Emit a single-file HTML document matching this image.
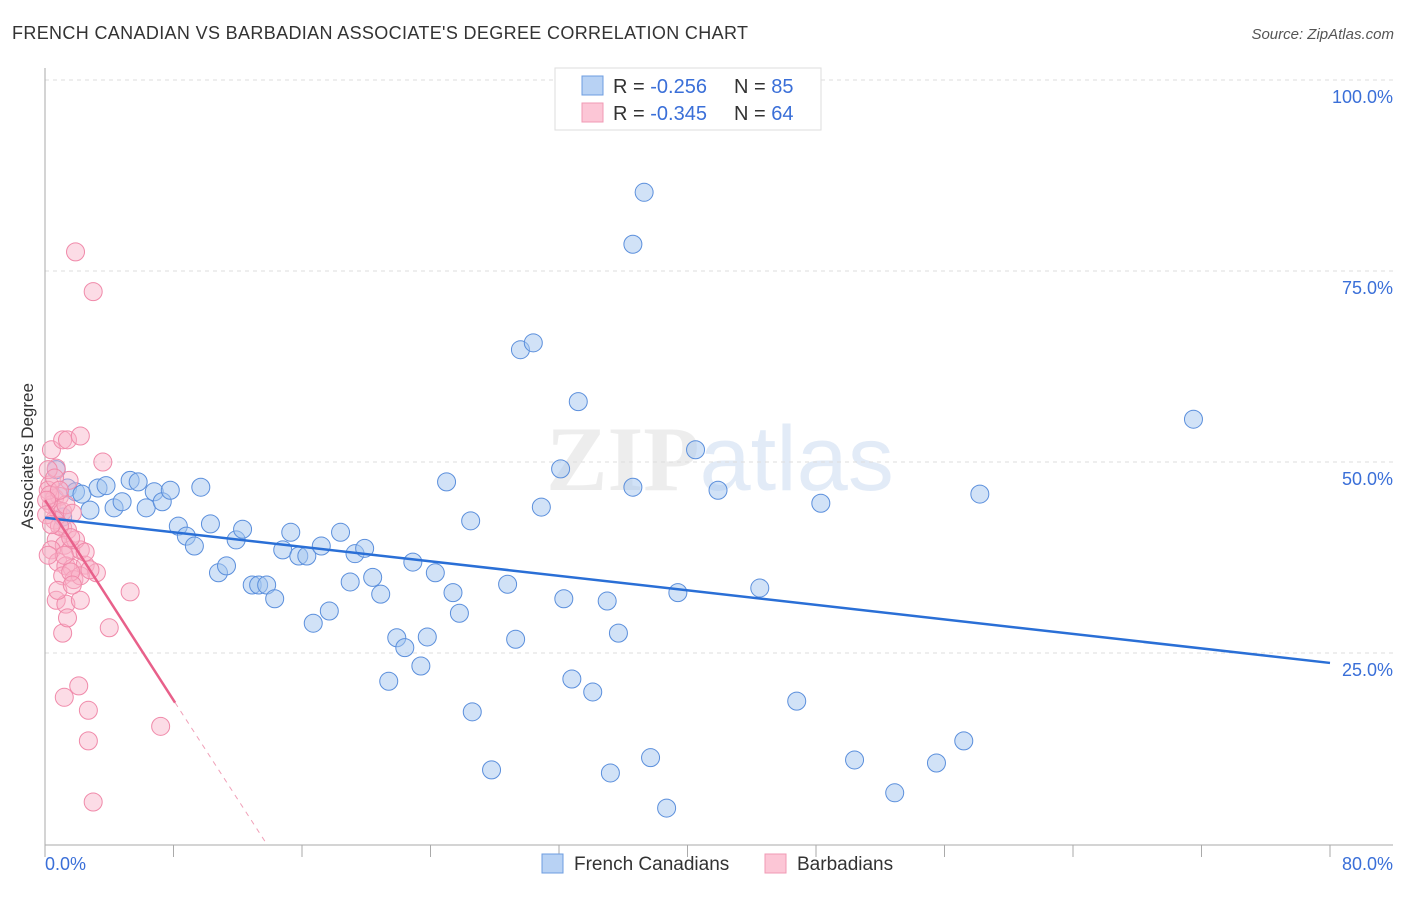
<!DOCTYPE html>
<html><head><meta charset="utf-8"><style>
body{margin:0;background:#fff;font-family:"Liberation Sans",sans-serif;}
svg text{font-family:"Liberation Sans",sans-serif;}
</style></head><body>
<svg id="chart" width="1406" height="892" xmlns="http://www.w3.org/2000/svg">
<text x="12" y="39" font-size="18" fill="#333" letter-spacing="0.35">FRENCH CANADIAN VS BARBADIAN ASSOCIATE'S DEGREE CORRELATION CHART</text>
<text x="1394" y="39" font-size="15" fill="#555" font-style="italic" text-anchor="end">Source: ZipAtlas.com</text>
<text x="720" y="490" font-size="92" text-anchor="middle" fill="#e2e2e2" opacity="0.6"><tspan font-family="Liberation Serif" font-weight="bold">ZIP</tspan><tspan fill="#d0def2">atlas</tspan></text>
<g id="grid"></g><g id="axes"></g><g id="pts"></g><g id="trends"></g>
<text transform="translate(33,456) rotate(-90)" font-size="17" fill="#333" text-anchor="middle">Associate's Degree</text>
<text x="45" y="870" font-size="18" fill="#3a6fd8">0.0%</text>
<text x="1393" y="870" font-size="18" fill="#3a6fd8" text-anchor="end">80.0%</text>
<g>
<rect x="555" y="68" width="266" height="62" fill="#fff" stroke="#ddd"/>
<rect x="582" y="76" width="21" height="19" fill="#b8d2f4" stroke="#6d9ce0"/>
<rect x="582" y="103" width="21" height="19" fill="#fcc6d6" stroke="#f09ab4"/>
<text x="613" y="93" font-size="20" fill="#333">R = <tspan fill="#3a6fd8">-0.256</tspan><tspan x="734">N = </tspan><tspan fill="#3a6fd8">85</tspan></text>
<text x="613" y="120" font-size="20" fill="#333">R = <tspan fill="#3a6fd8">-0.345</tspan><tspan x="734">N = </tspan><tspan fill="#3a6fd8">64</tspan></text>
</g>
<g>
<rect x="542" y="854" width="21" height="19" fill="#b8d2f4" stroke="#6d9ce0"/>
<text x="574" y="870" font-size="19" fill="#333">French Canadians</text>
<rect x="765" y="854" width="21" height="19" fill="#fcc6d6" stroke="#f09ab4"/>
<text x="797" y="870" font-size="19" fill="#333">Barbadians</text>
</g>
</svg>
<script>
const yTicks=[25,50,75,100];
const yTickLabels=["25.0%","50.0%","75.0%","100.0%"];
const xTicks=[0,8,16,24,32,40,48,56,64,72,80];
const blueX=[0.7,1.1,1.4,1.9,2.3,2.8,3.3,3.8,4.3,4.8,5.3,5.8,6.3,6.8,7.3,7.8,8.3,8.8,9.3,9.7,10.3,10.8,11.3,11.9,12.3,12.9,13.3,13.8,14.3,14.8,15.3,15.8,16.3,16.7,17.2,17.7,18.4,19.0,19.3,19.9,20.4,20.9,21.4,21.9,22.4,22.9,23.4,23.8,24.3,25.0,25.4,25.8,26.5,26.6,27.8,28.8,29.3,29.6,30.4,30.9,32.1,32.3,32.8,33.2,34.1,35.0,35.2,35.7,36.6,36.6,37.3,37.7,38.7,39.4,40.5,41.9,44.5,46.8,48.3,50.4,52.9,55.5,57.2,58.2,71.5];
const blueY=[49.0,42.8,46.6,46.1,45.8,43.7,46.6,46.9,44.0,44.8,47.6,47.4,44.0,46.1,44.8,46.3,41.6,40.3,39.0,46.7,41.9,35.5,36.4,39.8,41.2,33.9,33.9,33.9,32.1,38.5,40.8,37.7,37.7,28.9,39.0,30.5,40.8,34.3,38.0,38.7,34.9,32.7,21.3,27.0,25.7,36.9,23.3,27.1,35.5,47.4,32.9,30.2,42.3,17.3,9.7,34.0,26.8,64.7,65.6,44.1,49.1,32.1,21.6,57.9,19.9,31.8,9.3,27.6,46.7,78.5,85.3,11.3,4.7,32.9,51.6,46.3,33.5,18.7,44.6,11.0,6.7,10.6,13.5,45.8,55.6];
const pinkX=[1.9,3.0,0.4,1.1,1.4,2.2,3.6,0.7,1.5,0.3,0.6,0.9,0.4,0.8,1.1,1.3,1.7,0.6,1.1,1.4,0.7,1.2,0.4,1.6,2.2,0.8,1.3,1.7,2.5,3.2,1.1,1.8,2.2,0.7,1.3,2.2,0.8,1.6,1.1,1.4,5.3,4.0,2.1,1.2,2.7,7.2,2.7,3.0,0.2,0.2,0.3,0.6,0.9,0.1,0.1,0.9,1.9,1.2,2.5,0.2,1.7,0.4,2.8,1.6];
const pinkY=[77.5,72.3,51.6,52.9,52.9,53.4,50.0,49.2,47.6,47.0,45.3,45.5,44.4,43.7,43.5,44.4,43.3,42.4,41.4,41.1,39.8,39.1,38.5,38.5,38.5,36.9,36.4,36.1,36.5,35.5,35.1,34.6,35.1,31.9,31.4,31.9,33.2,35.6,27.6,29.6,33.0,28.3,20.7,19.2,17.5,15.4,13.5,5.5,49.0,46.3,45.7,47.9,46.3,45.0,43.1,41.6,39.8,37.8,38.2,37.8,33.9,41.8,35.9,40.1];
const blueTrend=[[0,42.7],[80,23.7]];
const pinkTrendSolid=[[0,45.0],[8.1,18.5]];
const pinkTrendDash=[[8.1,18.5],[13.8,0]];

const NS="http://www.w3.org/2000/svg";
const X0=45,X1=1330,Y0=844,Y1=80;
const sx=v=>X0+v/80*(X1-X0);
const sy=v=>Y0-v/100*(Y0-Y1);
function mk(tag,attrs,parent){const e=document.createElementNS(NS,tag);for(const k in attrs)e.setAttribute(k,attrs[k]);document.getElementById(parent).appendChild(e);return e;}
yTicks.forEach((t,i)=>{
  const l=mk('line',{x1:45,x2:1393,y1:sy(t),y2:sy(t),stroke:'#ddd','stroke-dasharray':'4,4'},'grid');
  
  
  const tx=mk('text',{x:1393,y:sy(t)+23,'font-size':18,fill:'#3a6fd8','text-anchor':'end'},'grid');
  tx.textContent=yTickLabels[i];
  
  
});
const ya=mk('line',{x1:45,x2:45,y1:68,y2:845,stroke:'#aaa'},'axes');


const xa=mk('line',{x1:45,x2:1393,y1:845,y2:845,stroke:'#aaa'},'axes');


xTicks.forEach(t=>{
  const l=mk('line',{x1:sx(t),x2:sx(t),y1:845,y2:857,stroke:'#aaa'},'axes');
  
  
});
blueX.forEach((v,i)=>{
  const c=mk('circle',{cx:sx(v),cy:sy(blueY[i]),r:9,fill:'rgba(164,198,240,0.5)',stroke:'#5b8fdc','stroke-width':1},'pts');
  
  
});
pinkX.forEach((v,i)=>{
  const c=mk('circle',{cx:sx(v),cy:sy(pinkY[i]),r:9,fill:'rgba(248,178,200,0.45)',stroke:'#f08aaa','stroke-width':1},'pts');
  
  
});
const bt=mk('line',{x1:sx(blueTrend[0][0]),y1:sy(blueTrend[0][1]),x2:sx(blueTrend[1][0]),y2:sy(blueTrend[1][1]),stroke:'#2a6fd6','stroke-width':2.5},'trends');


const pt=mk('line',{x1:sx(pinkTrendSolid[0][0]),y1:sy(pinkTrendSolid[0][1]),x2:sx(pinkTrendSolid[1][0]),y2:sy(pinkTrendSolid[1][1]),stroke:'#e8608a','stroke-width':2.5},'trends');


const pd=mk('line',{x1:sx(pinkTrendDash[0][0]),y1:sy(pinkTrendDash[0][1]),x2:sx(pinkTrendDash[1][0]),y2:sy(pinkTrendDash[1][1]),stroke:'#f0a0b8','stroke-width':1,'stroke-dasharray':'5,5'},'trends');


</script>
</body></html>
